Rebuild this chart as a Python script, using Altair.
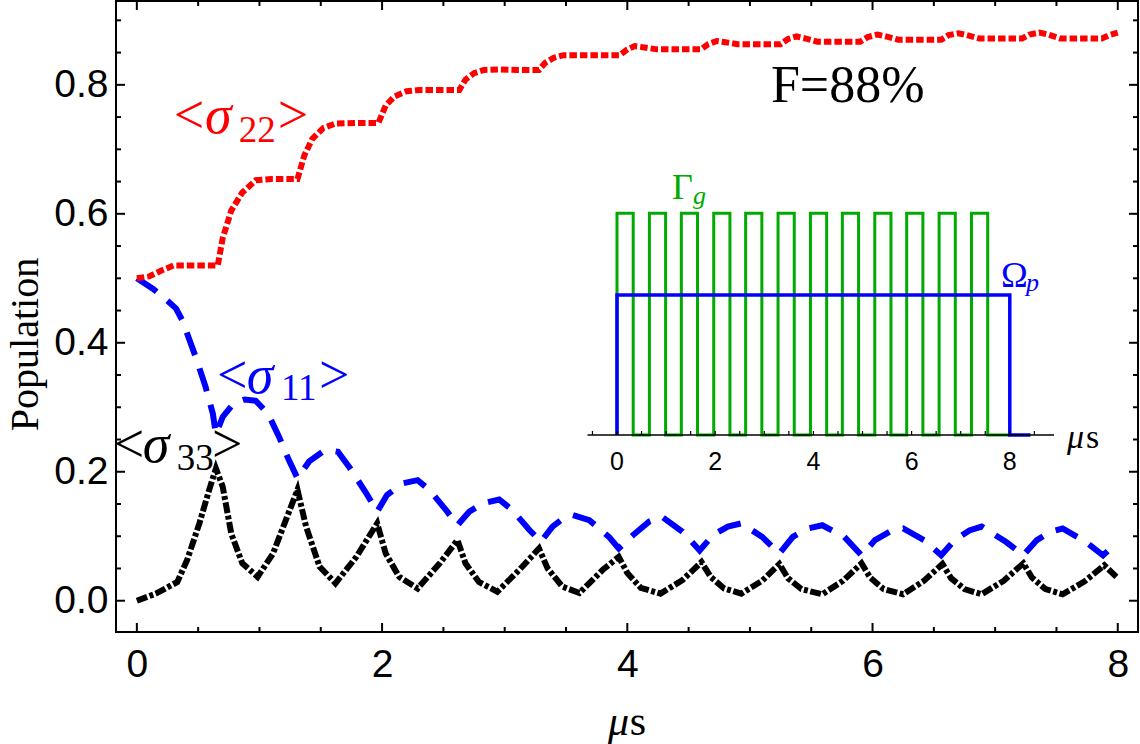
import altair as alt
import pandas as pd

# ---------------- population dynamics (time in µs) ----------------
t_s22 = [0, 0.1, 0.2, 0.3, 0.45, 0.66, 0.70, 0.77, 0.86, 0.97, 1.1, 1.31,
         1.365, 1.43, 1.52, 1.62, 1.8, 1.97, 2.03, 2.1, 2.2, 2.3, 2.45, 2.63,
         2.68, 2.75, 2.83, 2.95, 3.1, 3.28, 3.33, 3.4, 3.48, 3.6, 3.94,
         4.0, 4.06, 4.14, 4.24, 4.6, 4.66, 4.73, 4.8, 4.9, 5.25,
         5.31, 5.38, 5.45, 5.55, 5.9, 5.96, 6.04, 6.11, 6.21, 6.56,
         6.62, 6.7, 6.77, 6.87, 7.22, 7.28, 7.36, 7.43, 7.53, 7.87, 7.93, 8.0]
s22 = [0.5, 0.503, 0.512, 0.52, 0.52, 0.52, 0.562, 0.605, 0.633, 0.652, 0.654, 0.654,
       0.69, 0.716, 0.733, 0.74, 0.741, 0.741, 0.768, 0.782, 0.79, 0.792, 0.792, 0.792,
       0.808, 0.818, 0.823, 0.824, 0.823, 0.823, 0.834, 0.842, 0.846, 0.846, 0.846,
       0.855, 0.86, 0.858, 0.855, 0.855, 0.863, 0.868, 0.866, 0.863, 0.863,
       0.871, 0.875, 0.872, 0.867, 0.867, 0.874, 0.878, 0.875, 0.870, 0.870,
       0.877, 0.880, 0.877, 0.872, 0.872, 0.878, 0.881, 0.878, 0.872, 0.872, 0.877, 0.881]

t_s11 = [0, 0.13, 0.25, 0.32, 0.37, 0.48, 0.56, 0.62, 0.645, 0.70, 0.79, 0.88, 0.97,
         1.07, 1.16, 1.24, 1.31, 1.405, 1.515, 1.58, 1.64, 1.73, 1.87, 1.96,
         2.04, 2.17, 2.29, 2.385, 2.52, 2.615, 2.71, 2.82, 2.955, 3.06, 3.2, 3.295,
         3.39, 3.48, 3.555, 3.69, 3.85, 3.93, 4.06, 4.18, 4.28, 4.45, 4.59,
         4.70, 4.82, 4.93, 5.10, 5.24, 5.35, 5.47, 5.59, 5.77, 5.91,
         6.02, 6.14, 6.25, 6.42, 6.56, 6.67, 6.79, 6.89, 7.09, 7.23,
         7.34, 7.45, 7.55, 7.74, 7.88, 8.0]
s11 = [0.5, 0.484, 0.465, 0.453, 0.435, 0.378, 0.332, 0.29, 0.258, 0.285, 0.306, 0.312, 0.31,
       0.29, 0.254, 0.218, 0.19, 0.216, 0.231, 0.233, 0.231, 0.208, 0.167, 0.138,
       0.164, 0.182, 0.187, 0.172, 0.141, 0.117, 0.138, 0.151, 0.157, 0.141, 0.11, 0.0915,
       0.115, 0.128, 0.133, 0.125, 0.099, 0.081, 0.104, 0.123, 0.1305, 0.107, 0.078,
       0.102, 0.115, 0.12, 0.099, 0.073, 0.099, 0.112, 0.117, 0.099, 0.0705,
       0.094, 0.107, 0.112, 0.094, 0.0705, 0.094, 0.109, 0.115, 0.091, 0.0705,
       0.094, 0.107, 0.112, 0.091, 0.0705, 0.091]

t_s33 = [0, 0.155, 0.33, 0.41, 0.51, 0.59, 0.645, 0.70, 0.77, 0.86, 0.985,
         1.11, 1.215, 1.31, 1.38, 1.49, 1.62, 1.79, 1.96, 2.03, 2.14, 2.29,
         2.47, 2.615, 2.68, 2.79, 2.94, 3.12, 3.28, 3.35, 3.47, 3.61, 3.80,
         3.93, 4.0, 4.11, 4.27, 4.45, 4.605, 4.68, 4.79, 4.93, 5.1, 5.24,
         5.31, 5.42, 5.59, 5.76, 5.91, 5.98, 6.09, 6.25, 6.42, 6.57,
         6.64, 6.75, 6.89, 7.07, 7.23, 7.3, 7.41, 7.55, 7.73, 7.89, 8.0]
s33 = [0, 0.011, 0.029, 0.063, 0.12, 0.172, 0.205, 0.177, 0.104, 0.058, 0.037,
       0.073, 0.125, 0.172, 0.115, 0.053, 0.027, 0.068, 0.12, 0.073, 0.037, 0.019,
       0.058, 0.094, 0.058, 0.029, 0.014, 0.048, 0.081, 0.05, 0.022, 0.012, 0.048,
       0.068, 0.043, 0.02, 0.011, 0.032, 0.060, 0.037, 0.019, 0.011, 0.031, 0.057,
       0.035, 0.018, 0.010, 0.031, 0.058, 0.036, 0.018, 0.010, 0.031, 0.057,
       0.035, 0.018, 0.010, 0.031, 0.058, 0.036, 0.018, 0.010, 0.030, 0.055, 0.035]

# ---------------- inset: control fields ----------------
gamma_edges = [0, 0.33, 0.66, 0.99, 1.31, 1.64, 1.97, 2.30, 2.62, 2.95, 3.28, 3.61,
               3.94, 4.27, 4.59, 4.92, 5.25, 5.58, 5.90, 6.23, 6.56, 6.89, 7.22, 7.55]
gamma_stop = 8.0
omega_level = 0.632
omega_stop = 8.0
omega_tail = 8.42
inset_ticks = [-0.5, 0, 0.5, 1, 1.5, 2, 2.5, 3, 3.5, 4, 4.5, 5, 5.5, 6, 6.5, 7, 7.5, 8, 8.5]
inset_labels = [0, 2, 4, 6, 8]

# frame ticks
x_major = [0, 2, 4, 6, 8]
x_minor = [0.5, 1, 1.5, 2.5, 3, 3.5, 4.5, 5, 5.5, 6.5, 7, 7.5]
y_major = [0.0, 0.2, 0.4, 0.6, 0.8]
y_minor = [0.05, 0.1, 0.15, 0.25, 0.3, 0.35, 0.45, 0.5, 0.55, 0.65, 0.7, 0.75, 0.85, 0.9]

W, H = 1022, 631
XS = alt.Scale(domain=[-0.17, 8.165], nice=False, zero=False)
YS = alt.Scale(domain=[-0.0485, 0.93], nice=False, zero=False)
# inset drawn in its own coordinate system, placed by pixel ranges
INSET_BASE = 434
XI = alt.Scale(domain=[0, 8], range=[501, 893.8], nice=False, zero=False)
YI = alt.Scale(domain=[0, 1], range=[INSET_BASE, 212.3], nice=False, zero=False)

SERIF = "Liberation Serif, Times New Roman, serif"
SANS = "Liberation Sans, Arial, sans-serif"


def curve(ts, vs, color, dash, width=5):
    df = pd.DataFrame({"t": ts, "v": vs})
    return alt.Chart(df).mark_line(color=color, strokeWidth=width, strokeDash=dash,
                                   strokeCap="butt", strokeJoin="miter").encode(
        x=alt.X("t:Q", scale=XS, axis=None),
        y=alt.Y("v:Q", scale=YS, axis=None),
        order="t:Q",
    )


def label(rows, size, color, italic=False, font=SERIF, xs=XS, ys=YS, align="left"):
    df = pd.DataFrame(rows, columns=["t", "v", "txt"])
    return alt.Chart(df).mark_text(font=font, fontSize=size, color=color,
                                   fontStyle="italic" if italic else "normal",
                                   align=align, baseline="alphabetic").encode(
        x=alt.X("t:Q", scale=xs, axis=None),
        y=alt.Y("v:Q", scale=ys, axis=None),
        text="txt:N",
    )


def frame_ticks(vals, chan, side, length):
    df = pd.DataFrame({"v": vals})
    if chan == "x":
        enc = {"x": alt.X("v:Q", scale=XS, axis=None)}
        if side == "bottom":
            enc.update(y=alt.value(H), y2=alt.value(H - length))
        else:
            enc.update(y=alt.value(0), y2=alt.value(length))
    else:
        enc = {"y": alt.Y("v:Q", scale=YS, axis=None)}
        if side == "left":
            enc.update(x=alt.value(0), x2=alt.value(length))
        else:
            enc.update(x=alt.value(W), x2=alt.value(W - length))
    return alt.Chart(df).mark_rule(color="black", strokeWidth=2).encode(**enc)


# axes carrier (labels + y title only; frame ticks are drawn separately)
axes = alt.Chart(pd.DataFrame({"t": [0.0], "v": [0.0]})).mark_point(opacity=0).encode(
    x=alt.X("t:Q", scale=XS, axis=alt.Axis(
        values=x_major, format="d", ticks=False, domain=False, grid=False,
        labelFont=SANS, labelFontSize=39, labelColor="black", labelPadding=13,
        labelFlush=False, labelOverlap=False, title=None)),
    y=alt.Y("v:Q", scale=YS, axis=alt.Axis(
        values=y_major, format=".1f", ticks=False, domain=False, grid=False,
        labelFont=SANS, labelFontSize=39, labelColor="black", labelPadding=8,
        labelFlush=False, labelOverlap=False,
        title="Population", titleFont=SERIF, titleFontSize=40, titleFontWeight="normal",
        titleColor="black", titleAngle=270, titleBaseline="alphabetic",
        titleX=-79, titleY=343, titleAlign="center")),
)

# inset step traces
g_t, g_v = [], []
for i, e in enumerate(gamma_edges):
    lo, hi = (0, 1) if i % 2 == 0 else (1, 0)
    g_t += [e, e]
    g_v += [lo, hi]
g_t.append(gamma_stop)
g_v.append(0)
gamma_df = pd.DataFrame({"t": g_t, "v": g_v, "o": range(len(g_t))})
omega_df = pd.DataFrame({"t": [0, 0, omega_stop, omega_stop, omega_tail],
                         "v": [0, omega_level, omega_level, 0, 0], "o": range(5)})

gamma_line = alt.Chart(gamma_df).mark_line(color="#00AA00", strokeWidth=3, strokeJoin="miter").encode(
    x=alt.X("t:Q", scale=XI, axis=None), y=alt.Y("v:Q", scale=YI, axis=None), order="o:Q")
omega_line = alt.Chart(omega_df).mark_line(color="#0000FF", strokeWidth=3.5, strokeJoin="miter").encode(
    x=alt.X("t:Q", scale=XI, axis=None), y=alt.Y("v:Q", scale=YI, axis=None), order="o:Q")

inset_axis = alt.Chart(pd.DataFrame({"a": [-0.6], "b": [8.9], "v": [0]})).mark_rule(
    color="black", strokeWidth=1.4).encode(
    x=alt.X("a:Q", scale=XI, axis=None), x2="b:Q", y=alt.Y("v:Q", scale=YI, axis=None))
inset_tick_marks = alt.Chart(pd.DataFrame({"t": inset_ticks})).mark_rule(
    color="black", strokeWidth=1.2).encode(
    x=alt.X("t:Q", scale=XI, axis=None), y=alt.value(INSET_BASE), y2=alt.value(INSET_BASE - 4))
inset_tick_text = label([(v, -0.158, str(v)) for v in inset_labels], 25, "black",
                        font=SANS, xs=XI, ys=YI, align="center")

BIG, SIGMA, SUB = 54, 54, 37

layers = [
    axes,
    gamma_line, omega_line, inset_axis, inset_tick_marks, inset_tick_text,
    curve(t_s33, s33, "black", [11, 2.5, 4, 2.5], width=6),
    curve(t_s11, s11, "#0000FF", [24, 14], width=6),
    curve(t_s22, s22, "#FF0000", [7.5, 3], width=6),
    # <σ22>
    label([(0.302, 0.725, "<"), (1.150, 0.725, ">")], BIG, "#FF0000"),
    label([(0.555, 0.725, "σ")], SIGMA, "#FF0000", italic=True),
    label([(0.832, 0.711, "22")], SUB, "#FF0000"),
    # <σ11>
    label([(0.653, 0.322, "<"), (1.485, 0.322, ">")], BIG, "#0000FF"),
    label([(0.897, 0.322, "σ")], SIGMA, "#0000FF", italic=True),
    label([(1.175, 0.311, "11")], SUB, "#0000FF"),
    # <σ33>
    label([(-0.188, 0.215, "<"), (0.612, 0.215, ">")], BIG, "black"),
    label([(0.049, 0.215, "σ")], SIGMA, "black", italic=True),
    label([(0.326, 0.203, "33")], SUB, "black"),
    # fidelity
    label([(5.171, 0.773, "F=88%")], 52, "black"),
    # x title
    label([(3.842, -0.208, "μ")], 42, "black", italic=True),
    label([(4.02, -0.208, "s")], 42, "black"),
    # inset annotations
    label([(1.12, 1.065, "Γ")], 36, "#00AA00", xs=XI, ys=YI),
    label([(1.548, 1.042, "g")], 26, "#00AA00", italic=True, xs=XI, ys=YI),
    label([(7.82, 0.668, "Ω")], 36, "#0000FF", xs=XI, ys=YI),
    label([(8.33, 0.65, "p")], 26, "#0000FF", italic=True, xs=XI, ys=YI),
    label([(9.165, -0.059, "μ")], 34, "black", italic=True, xs=XI, ys=YI),
    label([(9.55, -0.059, "s")], 34, "black", xs=XI, ys=YI),
    # frame ticks
    frame_ticks(x_major, "x", "bottom", 9), frame_ticks(x_minor, "x", "bottom", 5),
    frame_ticks(x_major, "x", "top", 9), frame_ticks(x_minor, "x", "top", 5),
    frame_ticks(y_major, "y", "left", 9), frame_ticks(y_minor, "y", "left", 5),
    frame_ticks(y_major, "y", "right", 9), frame_ticks(y_minor, "y", "right", 5),
]

chart = alt.layer(*layers).resolve_scale(x="independent", y="independent").properties(
    width=W, height=H, autosize="none",
    padding={"left": 116, "top": 1, "right": 2, "bottom": 112},
    background="white",
).configure_view(stroke="black", strokeWidth=2)

chart.save("out.html", embed_options={"renderer": "svg", "actions": False})
